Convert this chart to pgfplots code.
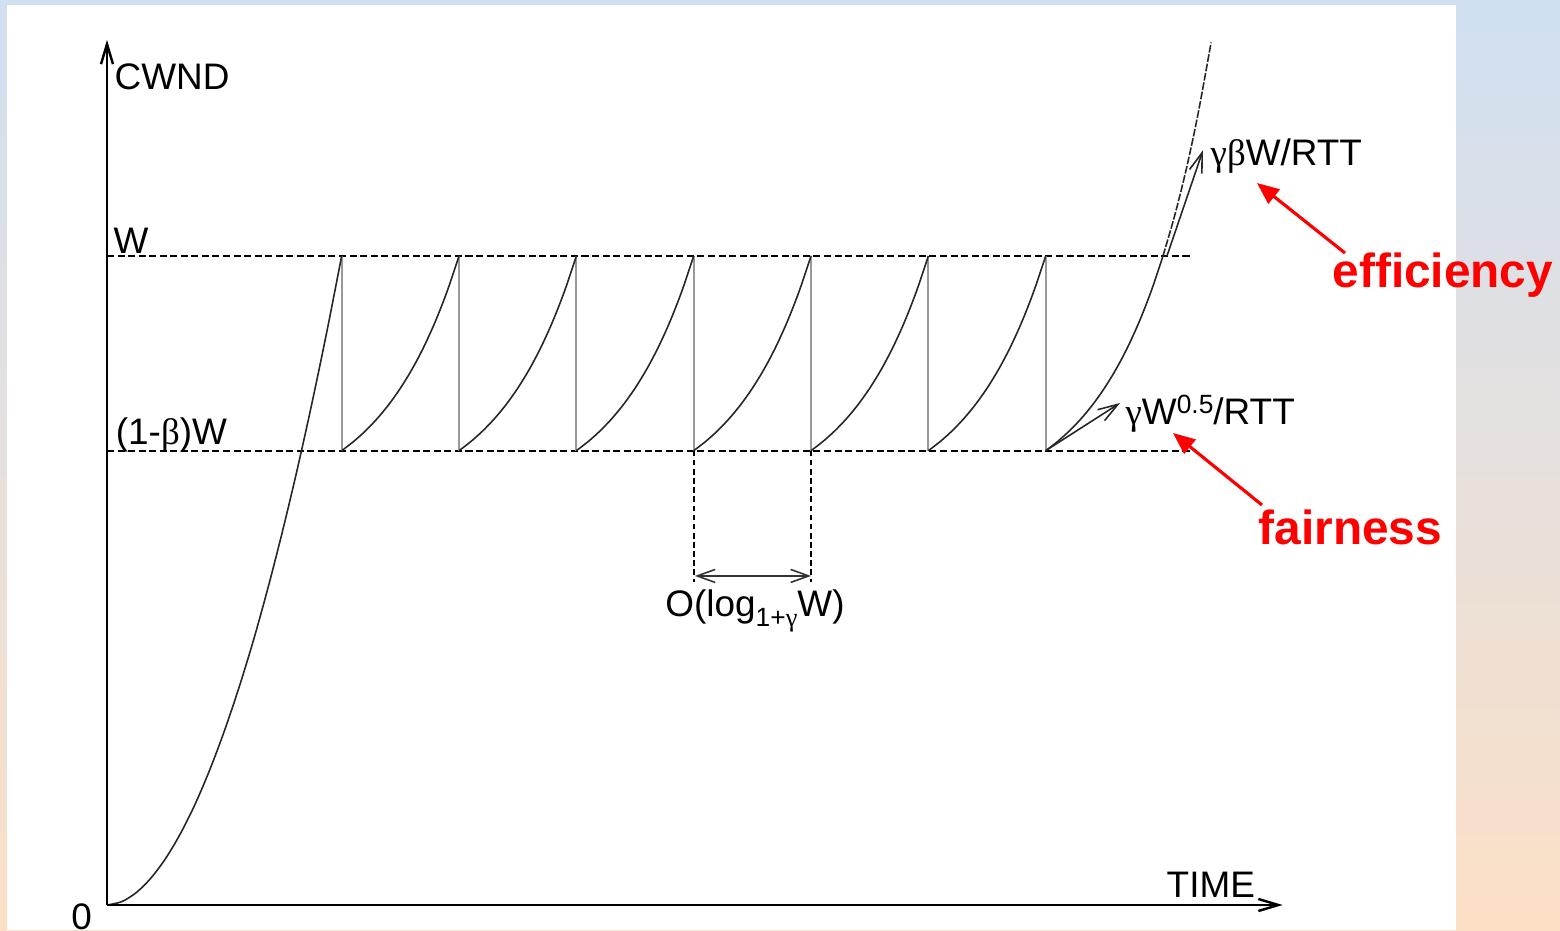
\documentclass[border=0pt]{standalone}
\usepackage{fontspec}
\setmainfont{Liberation Sans}
\newfontfamily\grk{Liberation Serif}
\usepackage{pgfplots}
\pgfplotsset{compat=1.18}
\usetikzlibrary{arrows.meta}
\definecolor{bgtop}{RGB}{208,224,242}
\definecolor{bgbot}{RGB}{252,224,198}
\tikzset{lbl/.style={font=\fontsize{10.5}{12}\selectfont, inner sep=0pt},
  red lbl/.style={font=\fontsize{13.6}{15}\selectfont\bfseries, text=red, inner sep=0pt}}
\begin{document}
\begin{tikzpicture}
\begin{axis}[name=ax, scale only axis, width=15.6cm, height=9.3cm,
  xmin=-0.91196, xmax=12.3839, ymin=-0.03852, ymax=1.39445,
  hide axis, clip=false,
  curve/.style={black!85, line width=0.45pt, smooth, no markers},
  every axis plot/.append style={no markers}]
% background
\fill[top color=bgtop, bottom color=bgbot] (axis cs:-0.91196,-0.03852) rectangle (axis cs:12.3839,1.39445);
\fill[white] (axis cs:-0.852,-0.03852) rectangle (axis cs:11.497,1.3867);
% reference dashed lines
\addplot[black, line width=0.5pt, dash pattern=on 2pt off 1pt] coordinates {(0,1) (9.23,1)};
\addplot[black, line width=0.5pt, dash pattern=on 2pt off 1pt] coordinates {(0,0.7) (9.23,0.7)};
\addplot[black, line width=0.5pt, dash pattern=on 1.6pt off 1pt] coordinates {(5,0.7) (5,0.498)};
\addplot[black, line width=0.5pt, dash pattern=on 1.6pt off 1pt] coordinates {(6,0.7) (6,0.498)};
\addplot[black!80, line width=0.45pt, {Straight Barb[length=1.8mm,width=1.3mm]}-{Straight Barb[length=1.8mm,width=1.3mm]}] coordinates {(5.01,0.507) (6.0,0.507)};
% drops
\addplot[black!40, line width=0.6pt, unbounded coords=jump] coordinates {
(2,1) (2,0.7) (2,nan) (3,1) (3,0.7) (3,nan) (4,1) (4,0.7) (4,nan) (5,1) (5,0.7) (5,nan)
(6,1) (6,0.7) (6,nan) (7,1) (7,0.7) (7,nan) (8,1) (8,0.7)};
% slow start
\addplot[curve] coordinates {(0,0) (0.125,0.00515) (0.25,0.0192) (0.375,0.0416) (0.5,0.0718) (0.625,0.1097) (0.75,0.155) (0.875,0.2079) (1,0.268) (1.125,0.3351) (1.25,0.409) (1.375,0.4907) (1.5,0.579) (1.625,0.674) (1.75,0.776) (1.875,0.8846) (2,1)};
% teeth
\addplot[curve] coordinates {(2,0.7000) (2.1,0.7139) (2.2,0.7301) (2.3,0.7489) (2.4,0.7707) (2.5,0.7961) (2.6,0.8256) (2.7,0.8599) (2.8,0.8998) (2.9,0.9461) (3,1.0000)};
\addplot[curve] coordinates {(3,0.7000) (3.1,0.7139) (3.2,0.7301) (3.3,0.7489) (3.4,0.7707) (3.5,0.7961) (3.6,0.8256) (3.7,0.8599) (3.8,0.8998) (3.9,0.9461) (4,1.0000)};
\addplot[curve] coordinates {(4,0.7000) (4.1,0.7139) (4.2,0.7301) (4.3,0.7489) (4.4,0.7707) (4.5,0.7961) (4.6,0.8256) (4.7,0.8599) (4.8,0.8998) (4.9,0.9461) (5,1.0000)};
\addplot[curve] coordinates {(5,0.7000) (5.1,0.7139) (5.2,0.7301) (5.3,0.7489) (5.4,0.7707) (5.5,0.7961) (5.6,0.8256) (5.7,0.8599) (5.8,0.8998) (5.9,0.9461) (6,1.0000)};
\addplot[curve] coordinates {(6,0.7000) (6.1,0.7139) (6.2,0.7301) (6.3,0.7489) (6.4,0.7707) (6.5,0.7961) (6.6,0.8256) (6.7,0.8599) (6.8,0.8998) (6.9,0.9461) (7,1.0000)};
\addplot[curve] coordinates {(7,0.7000) (7.1,0.7139) (7.2,0.7301) (7.3,0.7489) (7.4,0.7707) (7.5,0.7961) (7.6,0.8256) (7.7,0.8599) (7.8,0.8998) (7.9,0.9461) (8,1.0000)};
\addplot[curve] coordinates {(8,0.7000) (8.1,0.7139) (8.2,0.7301) (8.3,0.7489) (8.4,0.7707) (8.5,0.7961) (8.6,0.8256) (8.7,0.8599) (8.8,0.8998) (8.9,0.9461) (9,1.0000)};
\addplot[curve, dash pattern=on 2.2pt off 0.5pt] coordinates {(9,1.0000) (9.1,1.0625) (9.2,1.135) (9.3,1.220) (9.41,1.329)};
% tangent arrows
\addplot[black!85, line width=0.45pt, -{Straight Barb[length=2mm,width=1.3mm]}] coordinates {(8,0.7) (8.634,0.7735)};
\addplot[black!85, line width=0.45pt, -{Straight Barb[length=2mm,width=1.3mm]}] coordinates {(9.034,1.0) (9.341,1.163)};
% axes
\addplot[black, line width=0.7pt, -{Straight Barb[length=2mm,width=1.2mm]}] coordinates {(0,0) (10.02,0)};
\addplot[black, line width=0.7pt, -{Straight Barb[length=2mm,width=1.2mm]}] coordinates {(0,0) (0,1.333)};
% red arrows
\addplot[red, line width=0.9pt, -{Triangle[length=2.2mm,width=1.8mm]}] coordinates {(10.551,1.0046) (9.801,1.1125)};
\addplot[red, line width=0.9pt, -{Triangle[length=2.2mm,width=1.8mm]}] coordinates {(9.844,0.6163) (9.085,0.7273)};
% labels
\node[lbl, anchor=base west] at (axis cs:0.06,1.257) {CWND};
\node[lbl, anchor=base west] at (axis cs:0.05,1.0046) {W};
\node[lbl, anchor=base west] at (axis cs:0.07,0.7103) {(1-{\grk β})W};
\node[lbl, anchor=north] at (axis cs:-0.216,0.003) {0};
\node[lbl, anchor=base west] at (axis cs:9.026,0.0108) {TIME};
\node[lbl, anchor=base west] at (axis cs:9.401,1.140) {{\grk γβ}W/RTT};
\node[lbl, anchor=base west] at (axis cs:8.676,0.7396) {{\grk γ}W\raisebox{1.1mm}{\fontsize{7.5}{9}\selectfont 0.5}/RTT};
\node[lbl, anchor=base] at (axis cs:5.523,0.4438) {O(log\raisebox{-1mm}{\fontsize{7.5}{9}\selectfont 1+{\grk γ}}W)};
\node[red lbl, anchor=base west] at (axis cs:10.44,0.951) {efficiency};
\node[red lbl, anchor=base west] at (axis cs:9.81,0.555) {fairness};
\end{axis}
\pgfresetboundingbox
\path (ax.south west) rectangle (ax.north east);
\end{tikzpicture}
\end{document}
